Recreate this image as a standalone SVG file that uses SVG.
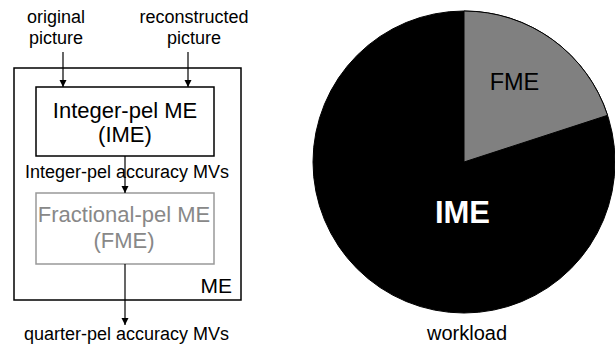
<svg xmlns="http://www.w3.org/2000/svg" width="615" height="345" viewBox="0 0 615 345">
<style>
text{font-family:"Liberation Sans",Arial,sans-serif;text-anchor:middle}
.s{font-size:18px}
.m{font-size:22px}
.box{fill:none;stroke:#000;stroke-width:1.5}
.g{fill:none;stroke:#999;stroke-width:1.5}
.c{stroke:#000;stroke-width:1.2;fill:none;marker-end:url(#ah)}
</style>
<defs>
<marker id="ah" markerWidth="8" markerHeight="8" refX="7" refY="4" orient="auto" markerUnits="userSpaceOnUse">
<path d="M0,0.5 L7,4 L0,7.5 Z" fill="#000"/>
</marker>
</defs>
<rect width="615" height="345" fill="#fff"/>
<g id="inputs">
<text class="s" x="56" y="23">original</text>
<text class="s" x="56" y="44">picture</text>
<text class="s" x="194" y="23">reconstructed</text>
<text class="s" x="194" y="44">picture</text>
</g>
<g id="me">
<rect class="box" x="14" y="68" width="227" height="232"/>
<text x="232" y="293" style="font-size:21px;text-anchor:end">ME</text>
</g>
<g id="ime">
<rect class="box" x="36" y="87" width="178" height="69"/>
<text class="m" x="125" y="117.5">Integer-pel ME</text>
<text class="m" x="125" y="142">(IME)</text>
</g>
<g id="fme">
<rect class="g" x="36" y="193" width="178" height="71"/>
<text class="m" x="124" y="221.5" fill="#888">Fractional-pel ME</text>
<text class="m" x="124" y="248" fill="#888">(FME)</text>
</g>
<g id="connectors">
<line class="c" x1="63" y1="52" x2="63" y2="87"/>
<line class="c" x1="188" y1="52" x2="188" y2="87"/>
<line class="c" x1="125" y1="156" x2="125" y2="193"/>
<line class="c" x1="125" y1="264" x2="125" y2="325"/>
</g>
<text class="s" x="127" y="178">Integer-pel accuracy MVs</text>
<text class="s" x="126.5" y="340">quarter-pel accuracy MVs</text>
<g id="pie">
<circle cx="464" cy="162" r="151" fill="#000" stroke="#000" stroke-width="1"/>
<path d="M464,162 L464,11 A151,151 0 0 1 607.6,115.3 Z" fill="#808080" stroke="#000" stroke-width="1"/>
<text x="514.5" y="90" style="font-size:23.5px">FME</text>
<text x="462.5" y="223" style="font-size:31px;font-weight:bold" fill="#fff">IME</text>
<text x="467" y="340" style="font-size:20px">workload</text>
</g>
</svg>
